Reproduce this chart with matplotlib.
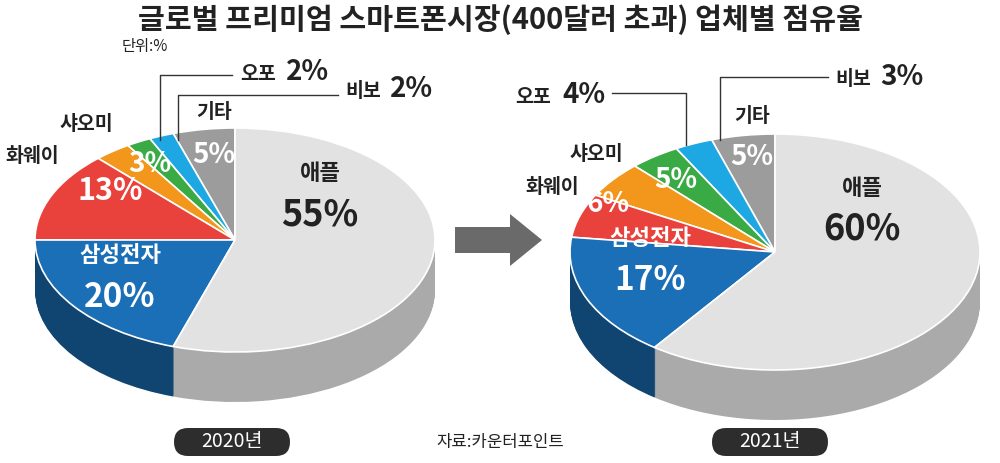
import matplotlib
matplotlib.use("Agg")
import matplotlib.pyplot as plt
from matplotlib.transforms import Affine2D
from matplotlib.patches import FancyBboxPatch, FancyArrow
import matplotlib.colors as mc

plt.rcParams['font.family'] = ['Noto Sans CJK KR', 'DejaVu Sans']

companies = ['기타', '비보', '오포', '샤오미', '화웨이', '삼성전자', '애플']
share_2020 = [5, 2, 2, 3, 13, 20, 55]
share_2021 = [5, 3, 4, 5, 6, 17, 60]
colors = ['#9c9c9c', '#1ea8e3', '#3aab44', '#f2961c', '#e9413b', '#1b6fb6', '#e2e2e2']

fig = plt.figure(figsize=(10, 4.63), dpi=100)
ax = fig.add_axes([0, 0, 1, 1])
ax.set_xlim(0, 1000)
ax.set_ylim(463, 0)
ax.axis('off')


def darker(c, f):
    r, g, b = mc.to_rgb(c)
    return (r * f, g * f, b * f)


def pie3d(values, cx, cy, rx, ry, depth):
    for k in range(depth, 0, -1):
        wedges, _ = ax.pie(values, startangle=90, counterclock=True,
                           colors=[darker(c, 0.62 if c != '#e2e2e2' else 0.75) for c in colors],
                           wedgeprops=dict(linewidth=0))
        for w in wedges:
            w.set_transform(Affine2D().scale(rx, -ry).translate(cx, cy + k) + ax.transData)
    wedges, _ = ax.pie(values, startangle=90, counterclock=True, colors=colors,
                       wedgeprops=dict(linewidth=1.2, edgecolor='white'))
    for w in wedges:
        w.set_transform(Affine2D().scale(rx, -ry).translate(cx, cy) + ax.transData)


pie3d(share_2020, 235, 240, 200, 112, 50)
pie3d(share_2021, 775, 252, 205, 118, 50)
ax.set_xlim(0, 1000)
ax.set_ylim(463, 0)
ax.set_aspect('auto')

ax.text(500, 20, '글로벌 프리미엄 스마트폰시장(400달러 초과) 업체별 점유율', ha='center', va='center',
        fontsize=21, fontweight='bold', color='#222222')
ax.text(122, 47, '단위:%', ha='left', va='center', fontsize=11, color='#222222')

# 2020 labels
ax.text(320, 180, '애플', ha='center', fontsize=16, fontweight='bold', color='#222')
ax.text(320, 225, f'{share_2020[6]}%', ha='center', fontsize=26, fontweight='bold', color='#222')
ax.text(120, 262, '삼성전자', ha='center', fontsize=16, fontweight='bold', color='white')
ax.text(120, 307, f'{share_2020[5]}%', ha='center', fontsize=24, fontweight='bold', color='white')
ax.text(5, 162, '화웨이', ha='left', fontsize=14, fontweight='bold', color='#222')
ax.text(110, 200, f'{share_2020[4]}%', ha='center', fontsize=22, fontweight='bold', color='white')
ax.text(60, 130, '샤오미', ha='left', fontsize=14, fontweight='bold', color='#222')
ax.text(150, 172, f'{share_2020[3]}%', ha='center', fontsize=20, fontweight='bold', color='white')
ax.text(240, 80, '오포', ha='left', fontsize=14, fontweight='bold', color='#222')
ax.text(286, 80, f'{share_2020[2]}%', ha='left', fontsize=20, fontweight='bold', color='#222')
ax.text(345, 97, '비보', ha='left', fontsize=14, fontweight='bold', color='#222')
ax.text(390, 97, f'{share_2020[1]}%', ha='left', fontsize=20, fontweight='bold', color='#222')
ax.text(214, 118, '기타', ha='center', fontsize=14, fontweight='bold', color='#222')
ax.text(214, 163, f'{share_2020[0]}%', ha='center', fontsize=20, fontweight='bold', color='white')
ax.plot([160, 160, 232], [140, 75, 75], color='#333', lw=1)
ax.plot([178, 178, 338], [140, 95, 95], color='#333', lw=1)

# 2021 labels
ax.text(862, 195, '애플', ha='center', fontsize=16, fontweight='bold', color='#222')
ax.text(862, 240, f'{share_2021[6]}%', ha='center', fontsize=26, fontweight='bold', color='#222')
ax.text(650, 245, '삼성전자', ha='center', fontsize=16, fontweight='bold', color='white')
ax.text(650, 290, f'{share_2021[5]}%', ha='center', fontsize=24, fontweight='bold', color='white')
ax.text(525, 193, '화웨이', ha='left', fontsize=14, fontweight='bold', color='#222')
ax.text(608, 212, f'{share_2021[4]}%', ha='center', fontsize=20, fontweight='bold', color='white')
ax.text(570, 160, '샤오미', ha='left', fontsize=14, fontweight='bold', color='#222')
ax.text(676, 188, f'{share_2021[3]}%', ha='center', fontsize=20, fontweight='bold', color='white')
ax.text(515, 103, '오포', ha='left', fontsize=14, fontweight='bold', color='#222')
ax.text(562, 103, f'{share_2021[2]}%', ha='left', fontsize=20, fontweight='bold', color='#222')
ax.text(835, 85, '비보', ha='left', fontsize=14, fontweight='bold', color='#222')
ax.text(880, 85, f'{share_2021[1]}%', ha='left', fontsize=20, fontweight='bold', color='#222')
ax.text(752, 122, '기타', ha='center', fontsize=14, fontweight='bold', color='#222')
ax.text(752, 165, f'{share_2021[0]}%', ha='center', fontsize=20, fontweight='bold', color='white')
ax.plot([612, 686, 686], [93, 93, 145], color='#333', lw=1)
ax.plot([720, 720, 828], [140, 77, 77], color='#333', lw=1)

# arrow
ax.add_patch(FancyArrow(455, 240, 55, 0, width=26, head_width=52, head_length=32,
                        length_includes_head=False, color='#6a6a6a', lw=0))

# year badges and source
for x, t in [(232, '2020년'), (770, '2021년')]:
    ax.add_patch(FancyBboxPatch((x - 58, 428), 116, 28, boxstyle='round,pad=0,rounding_size=14',
                                fc='#2d2d2d', ec='none'))
    ax.text(x, 442, t, ha='center', va='center', fontsize=14, color='white')
ax.text(500, 442, '자료:카운터포인트', ha='center', va='center', fontsize=12, color='#222')

fig.savefig('out.png', dpi=100)
